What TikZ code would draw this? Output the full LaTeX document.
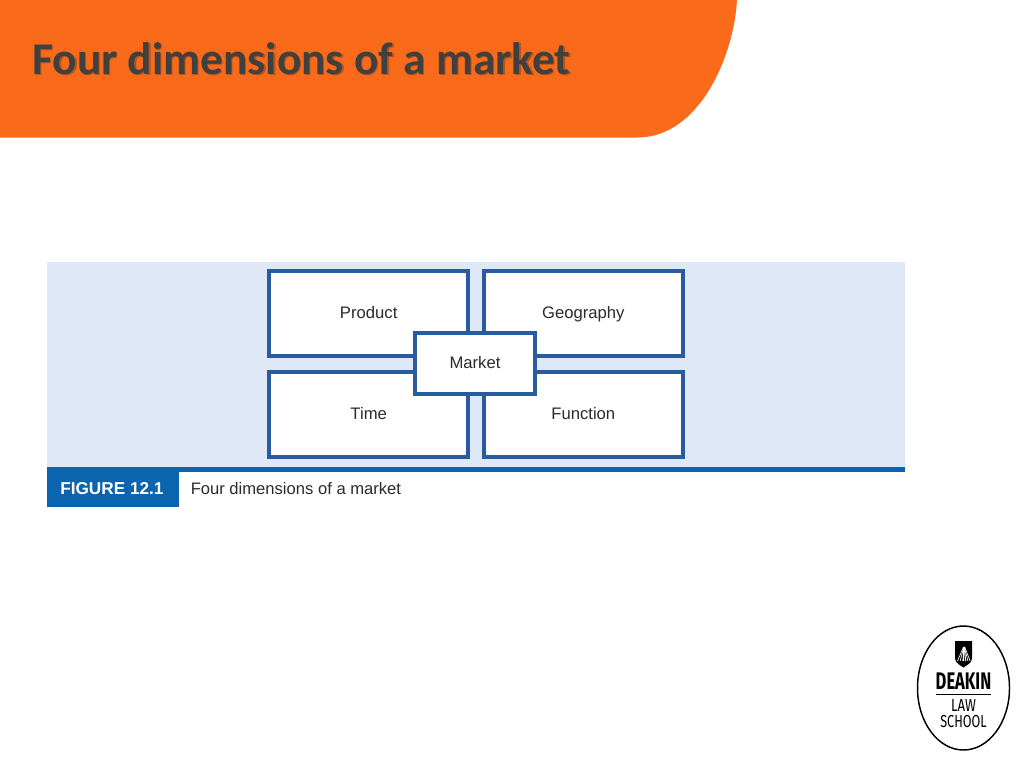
\documentclass[tikz,border=0pt]{standalone}
\usepackage{fontspec}
\usepackage{graphicx}
\setmainfont{Liberation Sans}
\newfontfamily\titlefont{Carlito}
\newfontfamily\logofont{Fira Sans}
\definecolor{hdr}{HTML}{F96B1A}
\definecolor{panel}{HTML}{DEE8F6}
\definecolor{boxblue}{HTML}{2A5AA0}
\definecolor{figblue}{HTML}{0A64AE}
\definecolor{ink}{HTML}{2B2B2B}
\definecolor{titleink}{HTML}{404040}
\definecolor{titleshadow}{HTML}{B5551A}
\tikzset{
  dimbox/.style={draw=boxblue,line width=3pt,fill=white,rectangle,minimum width=149.6pt,minimum height=63.6pt,inner sep=0pt,text height=9.75pt,text depth=1.85pt,font=\fontsize{12.5pt}{14pt}\selectfont,text=ink},
  centerbox/.style={dimbox,minimum width=90.5pt,minimum height=45.75pt},
  titletext/.style={anchor=west,inner sep=0pt,font=\titlefont\bfseries\fontsize{34.1pt}{40pt}\selectfont},
}
\begin{document}
\begin{tikzpicture}[x=0.75pt,y=-0.75pt]
\useasboundingbox (0,0) rectangle (1024,768);
\fill[white] (0,0) rectangle (1024,768);
% header
\fill[hdr] (0,0) -- (737,0) .. controls (734,55) and (700,137) .. (638,137.5) -- (0,137.5) -- cycle;
\node[titletext,text=titleshadow] (titleshade) at (33.5,60) {Four dimensions of a market};
\node[titletext,text=titleink] (title) at (32,58.5) {Four dimensions of a market};
% panel
\fill[panel] (47,262) rectangle (905,467);
\fill[figblue] (47,467) rectangle (905,472);
\fill[figblue] (47,467) rectangle (179,506.5);
% boxes
\node[dimbox] (product) at (368.7,313.6) {Product};
\node[dimbox] (geography) at (583.3,313.6) {Geography};
\node[dimbox] (time) at (368.7,414.2) {Time};
\node[dimbox] (function) at (583.3,414.2) {Function};
\node[centerbox] (market) at (475,363.5) {Market};
% caption
\node[anchor=west,inner sep=0pt,text=white,font=\bfseries\fontsize{12.9pt}{14pt}\selectfont] (figlabel) at (60,488.5) {FIGURE 12.1};
\node[anchor=west,inner sep=0pt,text=ink,font=\fontsize{12.45pt}{14pt}\selectfont] (figcaption) at (190.5,488.5) {Four dimensions of a market};
% logo
\draw[black,line width=1.1pt,fill=white] (963.5,688) ellipse [x radius=46,y radius=62];
\fill[black] (955,641) -- (972,641) -- (972,658) .. controls (972,663) and (967,665) .. (963.5,667.5) .. controls (960,665) and (955,663) .. (955,658) -- cycle;
\foreach \i in {0,1,2,3}{
  \draw[white,line width=0.5pt] (963.5+\i*0.4,647) -- (957.5+\i*2.6,661);
  \draw[white,line width=0.5pt] (963.5+\i*0.4,647) -- (963.5+\i*2.2,661);
}
\node[inner sep=0pt,font=\logofont\bfseries\fontsize{18pt}{20pt}\selectfont] (deakin) at (963.5,681) {\scalebox{0.69}[1]{DEAKIN}};
\draw[black,line width=0.6pt] (936,694.5) -- (991,694.5);
\node[inner sep=0pt,font=\logofont\fontsize{13pt}{15pt}\selectfont] (law) at (963.5,706) {\scalebox{0.76}[1]{LAW}};
\node[inner sep=0pt,font=\logofont\fontsize{13pt}{15pt}\selectfont] (school) at (963.5,722) {\scalebox{0.73}[1]{SCHOOL}};
\end{tikzpicture}
\end{document}
